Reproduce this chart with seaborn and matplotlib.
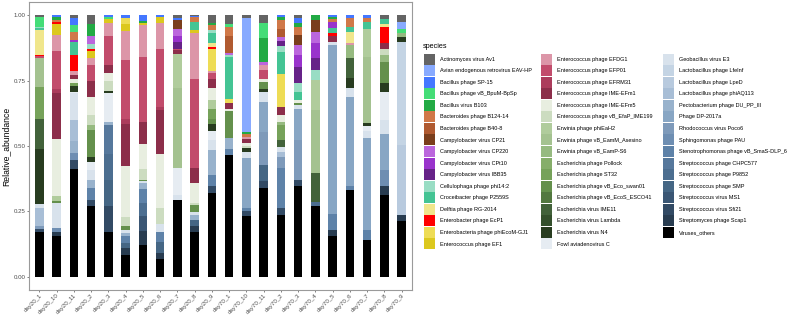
import numpy as np
import pandas as pd
import matplotlib
matplotlib.use("Agg")
import matplotlib.pyplot as plt
import matplotlib.patches as mpatches
import seaborn as sns

# samples in the order they appear on the x axis
samples = ["day20_1", "day20_10", "day20_11", "day20_2", "day20_3", "day20_4",
           "day20_5", "day20_6", "day20_7", "day20_8", "day20_9",
           "day70_1", "day70_10", "day70_11", "day70_2", "day70_3", "day70_4",
           "day70_5", "day70_6", "day70_7", "day70_8", "day70_9"]

# legend order (top of stack first)
species = [
    "Actinomyces virus Av1", "Avian endogenous retrovirus EAV-HP", "Bacillus phage SP-15",
    "Bacillus phage vB_BpuM-BpSp", "Bacillus virus B103", "Bacteroides phage B124-14",
    "Bacteroides phage B40-8", "Campylobacter virus CP21", "Campylobacter virus CP220",
    "Campylobacter virus CPt10", "Campylobacter virus IBB35", "Cellulophaga phage phi14:2",
    "Croceibacter phage P2559S", "Delftia phage RG-2014", "Enterobacter phage EcP1",
    "Enterobacteria phage phiEcoM-GJ1", "Enterococcus phage EF1",
    "Enterococcus phage EFDG1", "Enterococcus phage EFP01", "Enterococcus phage EFRM31",
    "Enterococcus phage IME-EFm1", "Enterococcus phage IME-EFm5", "Enterococcus phage vB_EfaP_IME199",
    "Erwinia phage phiEaH2", "Erwinia phage vB_EamM_Asesino", "Erwinia phage vB_EamP-S6",
    "Escherichia phage Pollock", "Escherichia phage ST32", "Escherichia phage vB_Eco_swan01",
    "Escherichia phage vB_EcoS_ESCO41", "Escherichia virus IME11", "Escherichia virus Lambda",
    "Escherichia virus N4", "Fowl aviadenovirus C",
    "Geobacillus virus E3", "Lactobacillus phage LfeInf", "Lactobacillus phage LpeD",
    "Lactobacillus phage phiAQ113", "Pectobacterium phage DU_PP_III", "Phage DP-2017a",
    "Rhodococcus virus Poco6", "Sphingomonas phage PAU", "Stenotrophomonas phage vB_SmaS-DLP_6",
    "Streptococcus phage CHPC577", "Streptococcus phage P9852", "Streptococcus phage SMP",
    "Streptococcus virus MS1", "Streptococcus virus Sfi21", "Streptomyces phage Scap1",
    "Viruses_others"]

keys = ["Av1", "EAV", "SP15", "BpSp", "B103", "B124", "B40", "CP21", "CP220", "CPt10",
        "IBB35", "phi14", "P2559S", "RG2014", "EcP1", "GJ1", "EF1",
        "EFDG1", "EFP01", "EFRM31", "EFm1", "EFm5", "IME199", "EaH2", "Asesino", "S6",
        "Pollock", "ST32", "swan01", "ESCO41", "IME11", "Lambda", "N4", "FAdV",
        "E3", "LfeInf", "LpeD", "AQ113", "DUPP", "DP2017", "Poco6", "PAU", "SmaS",
        "CHPC577", "P9852", "SMP", "MS1", "Sfi21", "Scap1", "others"]

colors = ["#646464", "#88aaff", "#4477ff", "#44dd77", "#22aa44", "#d07848", "#b05a30",
          "#7a3e1c", "#bb66dd", "#9933cc", "#662288", "#99ddc4", "#44c494", "#f0e68c",
          "#ff0000", "#eedc55", "#dcc81e",
          "#dc96a8", "#c24c6c", "#ac3c5c", "#8c2e4a", "#e8eee0", "#ccdcc0", "#b0cc9c",
          "#a4c290", "#96ba80", "#86ae6a", "#76a25a", "#64904c", "#527840", "#42623a",
          "#34502c", "#283c20", "#e6ecf2",
          "#d8e2ec", "#c4d4e4", "#b8cade", "#a8bed6", "#98b2cc", "#88a6c4", "#7e9aba",
          "#6e8eb2", "#5e82a8", "#56789c", "#4c6e90", "#456684", "#3a5674", "#324a64",
          "#283c50", "#000000"]

# relative abundances (only non-zero species listed)
day20_1 = {"others": .171, "Sfi21": .01, "Poco6": .012, "AQ113": .07, "E3": .016, "N4": .21,
           "IME11": .114, "ST32": .12, "Asesino": .114, "EFP01": .004, "EcP1": .006,
           "RG2014": .096, "P2559S": .006, "phi14": .006, "BpSp": .036, "Av1": .008}
day20_10 = {"others": .157, "Scap1": .013, "PAU": .016, "E3": .095, "swan01": .009, "EaH2": .02,
            "EFm5": .216, "EFm1": .176, "EFRM31": .014, "EFP01": .146, "EFDG1": .06, "EF1": .044,
            "EcP1": .006, "B124": .009, "B103": .009, "SP15": .009}
day20_11 = {"others": .412, "Sfi21": .032, "PAU": .028, "DUPP": .044, "AQ113": .082, "E3": .104,
            "FAdV": .004, "N4": .022, "ST32": .01, "EFm5": .016, "EFm1": .015, "EFDG1": .015,
            "EcP1": .061, "P2559S": .05, "CPt10": .009, "B124": .029, "BpSp": .025, "SP15": .029,
            "Av1": .01}
day20_2 = {"others": .269, "Sfi21": .023, "SmaS": .047, "DUPP": .032, "E3": .038, "FAdV": .029,
           "N4": .018, "swan01": .105, "S6": .019, "IME199": .038, "EFm5": .067, "EFm1": .062,
           "EFP01": .063, "EFDG1": .025, "EF1": .027, "EcP1": .009, "phi14": .019, "CP220": .028,
           "B103": .048, "Av1": .033}
day20_3 = {"others": .17, "Sfi21": .099, "SMP": .1, "P9852": .1, "CHPC577": .108, "DUPP": .013,
           "FAdV": .108, "N4": .009, "IME199": .039, "EFm5": .03, "EFm1": .032, "EFP01": .108,
           "EFDG1": .05, "EF1": .015, "BpSp": .008, "SP15": .007}
day20_4 = {"others": .085, "Scap1": .025, "SMP": .019, "SmaS": .025, "DUPP": .015, "E3": .01,
           "swan01": .015, "IME199": .033, "EFm5": .195, "EFm1": .162, "EFRM31": .019,
           "EFP01": .222, "EFDG1": .11, "EF1": .027, "GJ1": .025, "SP15": .01}
day20_5 = {"others": .123, "Scap1": .051, "MS1": .057, "P9852": .051, "SmaS": .051, "DUPP": .025,
           "E3": .006, "swan01": .006, "IME199": .04, "EFm5": .095, "EFm1": .086, "EFP01": .247,
           "EFDG1": .12, "EF1": .009, "B103": .006, "SP15": .024}
day20_6 = {"others": .068, "Scap1": .025, "SMP": .042, "SmaS": .038, "E3": .028, "IME199": .061,
           "EFm5": .207, "EFm1": .168, "EFRM31": .013, "EFP01": .218, "EFDG1": .1, "EF1": .023,
           "SP15": .008}
day20_7 = {"others": .294, "E3": .019, "FAdV": .102, "Asesino": .305, "EaH2": .133, "EFm1": .013,
           "EFP01": .006, "IBB35": .025, "CPt10": .022, "CP220": .029, "CP21": .034, "SP15": .008,
           "Av1": .01}
day20_8 = {"others": .17, "Scap1": .023, "SMP": .025, "DUPP": .019, "E3": .013, "swan01": .025,
           "IME199": .009, "EFm5": .074, "EFm1": .057, "EFP01": .343, "EFDG1": .174, "EF1": .013,
           "P2559S": .029, "B124": .019, "SP15": .004, "Av1": .004}
day20_9 = {"others": .32, "Sfi21": .025, "SmaS": .044, "DUPP": .095, "E3": .038, "FAdV": .034,
           "N4": .029, "swan01": .019, "ST32": .038, "EaH2": .032, "EFm5": .045, "EFm1": .038,
           "EFP01": .022, "EFDG1": .008, "GJ1": .081, "EcP1": .01, "RG2014": .013, "P2559S": .04,
           "phi14": .01, "B124": .019, "B103": .009, "Av1": .03}
day70_1 = {"others": .466, "SmaS": .022, "DUPP": .042, "swan01": .105, "EFm5": .005, "EFm1": .025,
           "GJ1": .016, "P2559S": .159, "phi14": .006, "CP220": .009, "B40": .067, "B124": .032,
           "BpSp": .013, "Av1": .033}
day70_10 = {"others": .231, "Sfi21": .019, "SmaS": .013, "DP2017": .19, "E3": .025, "N4": .013,
            "IME199": .01, "EFm5": .009, "EFm1": .015, "EFDG1": .008, "B124": .012, "B103": .01,
            "EAV": .435, "Av1": .01}
day70_11 = {"others": .341, "Sfi21": .027, "SMP": .06, "Poco6": .127, "DP2017": .114, "E3": .038,
            "N4": .013, "swan01": .025, "EFm5": .013, "EFP01": .032, "EFDG1": .019, "CP220": .013,
            "B103": .093, "BpSp": .056, "Av1": .03}
day70_2 = {"others": .237, "Sfi21": .025, "SmaS": .152, "Poco6": .044, "AQ113": .019, "E3": .019,
           "IME11": .025, "ST32": .057, "S6": .013, "EFm5": .025, "EFm1": .032, "GJ1": .124,
           "P2559S": .085, "phi14": .025, "IBB35": .019, "CP220": .013, "B40": .032, "B124": .034,
           "B103": .01, "SP15": .008}
day70_3 = {"others": .348, "Sfi21": .023, "Poco6": .152, "DP2017": .12, "E3": .013, "swan01": .008,
           "EFm5": .012, "P2559S": .032, "phi14": .034, "IBB35": .061, "CPt10": .044, "CP220": .038,
           "CP21": .038, "B124": .032, "B103": .015, "SP15": .02, "Av1": .01}
day70_4 = {"others": .272, "P9852": .013, "IME11": .112, "Asesino": .241, "EaH2": .114,
           "phi14": .038, "IBB35": .047, "CPt10": .055, "CP220": .044, "CP21": .044, "B103": .02}
day70_5 = {"others": .155, "Scap1": .023, "SmaS": .063, "DP2017": .643, "E3": .013, "EFm1": .025,
           "EcP1": .009, "P2559S": .02, "CPt10": .022, "B124": .012, "B103": .008, "SP15": .007}
day70_6 = {"others": .33, "SmaS": .018, "DP2017": .34, "E3": .032, "N4": .038, "IME11": .076,
           "S6": .05, "EFDG1": .01, "RG2014": .04, "P2559S": .019, "B124": .036, "SP15": .01}
day70_7 = {"others": .142, "SmaS": .038, "DP2017": .349, "E3": .029, "FAdV": .018, "N4": .01,
           "Asesino": .254, "EaH2": .108, "P2559S": .025, "B124": .015, "SP15": .012}
day70_8 = {"others": .313, "Scap1": .034, "PAU": .061, "DP2017": .137, "E3": .053, "FAdV": .108,
           "N4": .032, "swan01": .082, "S6": .025, "IME199": .025, "EFm1": .022, "EcP1": .061,
           "RG2014": .013, "P2559S": .019, "Av1": .014}
day70_9 = {"others": .212, "Scap1": .025, "LpeD": .266, "LfeInf": .393, "N4": .019, "S6": .015,
           "BpSp": .016, "EAV": .025, "Av1": .027}

sample_values = [day20_1, day20_10, day20_11, day20_2, day20_3, day20_4, day20_5, day20_6,
                 day20_7, day20_8, day20_9, day70_1, day70_10, day70_11, day70_2, day70_3,
                 day70_4, day70_5, day70_6, day70_7, day70_8, day70_9]

rows = []
for s, vals in zip(samples, sample_values):
    total = sum(vals.values())
    for k, name in zip(keys, species):
        rows.append({"sample": s, "species": name, "abundance": vals.get(k, 0.0) / total})
df = pd.DataFrame(rows)
df["sample"] = pd.Categorical(df["sample"], categories=samples, ordered=True)

plt.rcParams["font.family"] = ["Liberation Sans", "DejaVu Sans"]

fig = plt.figure(figsize=(7.98, 3.15), dpi=100)
ax = fig.add_axes([29 / 798, 25 / 315, (412 - 29) / 798, (313 - 25) / 315])

sns.histplot(data=df, x="sample", weights="abundance", hue="species", hue_order=species,
             palette=dict(zip(species, colors)), multiple="stack", discrete=True, shrink=0.5,
             alpha=1, linewidth=0, legend=False, ax=ax)

ax.set_xlim(-0.6, len(samples) - 0.4)
ax.set_ylim(-0.05, 1.05)
ax.set_yticks([0, 0.25, 0.5, 0.75, 1.0])
ax.set_yticklabels(["0.00", "0.25", "0.50", "0.75", "1.00"])
ax.set_xticks(range(len(samples)))
ax.set_xticklabels(samples, rotation=45, ha="right", rotation_mode="anchor")
ax.tick_params(axis="both", labelsize=4.4, colors="#4d4d4d", length=1.5, width=0.5, pad=1)
ax.tick_params(axis="x", pad=0.5)
ax.set_xlabel("")
ax.set_ylabel("Relative_abundance", fontsize=6.2, labelpad=2)
for sp in ax.spines.values():
    sp.set_color("#9a9a9a")
    sp.set_linewidth(0.8)

# legend: title as separate text, three columns of keys placed one by one
fig.text(423 / 798, 1 - 46 / 315, "species", fontsize=5.2, va="center", ha="left")
fs = 4.0
handles = [mpatches.Patch(facecolor=c, edgecolor="none") for c in colors]
col_breaks = [(0, 17, 424), (17, 34, 540.5), (34, 50, 662.5)]
for i0, i1, x0 in col_breaks:
    leg = fig.legend(handles[i0:i1], species[i0:i1], loc="upper left",
                     bbox_to_anchor=(x0 / 798, 1 - 53.5 / 315), frameon=False,
                     fontsize=fs, handlelength=7.92 / fs, handleheight=(7.92 / fs - 0.245) / 0.65,
                     labelspacing=0.1, handletextpad=3.8 / fs,
                     borderaxespad=0, borderpad=0)

fig.savefig("out.png", dpi=100)
